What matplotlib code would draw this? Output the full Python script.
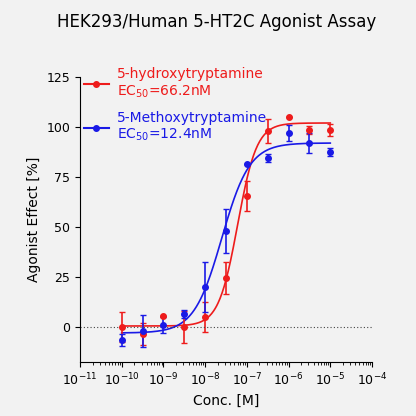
import numpy as np
import matplotlib
matplotlib.use("Agg")
import matplotlib.pyplot as plt
from matplotlib.lines import Line2D
from matplotlib.ticker import LogLocator, NullFormatter

logx = [-10, -9.5, -9, -8.5, -8, -7.5, -7, -6.5, -6, -5.5, -5]
red_y = [0, -3.5, 5.5, 0, 5, 24.7, 65.7, 98, 105, 98.5, 98.5]
red_err = [7.5, 5.5, 0, 8, 7.5, 8, 7.5, 6, 0, 2, 3]
blue_y = [-6.5, -2, 1, 6.5, 20, 48, 81.7, 84.5, 97, 92, 87.5]
blue_err = [3, 8, 4, 2, 12.5, 11, 0, 2, 4, 5, 2]
# curve fit parameters: bottom, top, logEC50, hill
red_fit = [0.5, 102, -7.22, 1.9]
blue_fit = [-3, 92, -7.6, 1.3]

RED = "#ee1c1c"; BLUE = "#1a1ae6"
fig = plt.figure(figsize=(4.16, 4.16), dpi=100, facecolor="#f2f2f2")
ax = fig.add_axes([80/416, 1-362/416, 292/416, 285/416])
ax.set_facecolor("#f2f2f2")
x = 10**np.array(logx)
xx = np.logspace(-10, -5, 300)
def curve(p):
    b, t, e, h = p
    return b + (t-b)/(1+10**((e-np.log10(xx))*h))
ax.plot(xx, curve(red_fit), color=RED, lw=1.2)
ax.plot(xx, curve(blue_fit), color=BLUE, lw=1.2)
ax.errorbar(x, red_y, yerr=red_err, fmt="o", color=RED, ms=4, capsize=2.5, elinewidth=1.2)
ax.errorbar(x, blue_y, yerr=blue_err, fmt="o", color=BLUE, ms=4, capsize=2.5, elinewidth=1.2)
ax.axhline(0, color="#444", lw=0.8, ls=(0, (1, 2)))
ax.set_xscale("log")
ax.set_xlim(1e-11, 1e-4)
ax.set_ylim(-17.5, 125)
ax.set_yticks([0, 25, 50, 75, 100, 125])
ax.set_xticks([10.0**k for k in range(-11, -3)])
ax.xaxis.set_minor_locator(LogLocator(base=10, subs=np.arange(2, 10), numticks=20))
ax.xaxis.set_minor_formatter(NullFormatter())
for s in ["top", "right"]:
    ax.spines[s].set_visible(False)
ax.tick_params(labelsize=9)
ax.set_xlabel("Conc. [M]", fontsize=10)
ax.set_ylabel("Agonist Effect [%]", fontsize=10)
fig.suptitle("HEK293/Human 5-HT2C Agonist Assay", x=0.52, y=1-22/416, va="center", fontsize=12)
handles = [Line2D([], [], color=RED, marker="o", ms=4), Line2D([], [], color=BLUE, marker="o", ms=4)]
leg = ax.legend(handles, ["5-hydroxytryptamine\nEC$_{50}$=66.2nM", "5-Methoxytryptamine\nEC$_{50}$=12.4nM"],
                loc="upper left", bbox_to_anchor=(-0.03, 1.08), frameon=False, fontsize=10,
                handlelength=1.8, labelspacing=0.8, handletextpad=0.6)
for t, c in zip(leg.get_texts(), [RED, BLUE]):
    t.set_color(c)
fig.savefig("out.png", dpi=100, facecolor=fig.get_facecolor())
